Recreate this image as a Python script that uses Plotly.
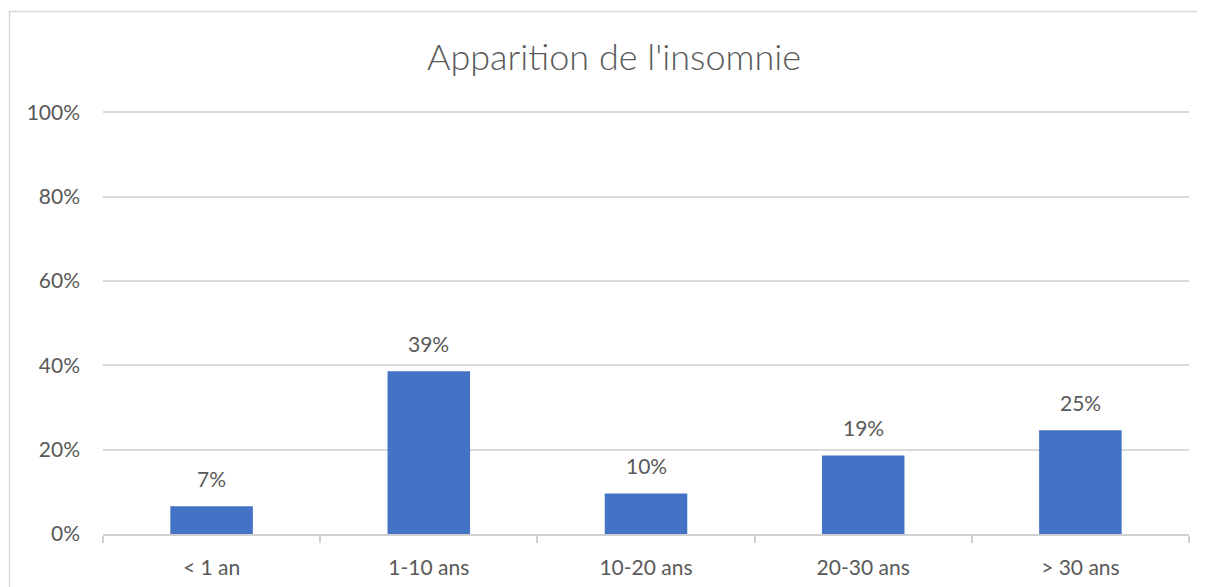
import plotly.graph_objects as go

categories = ["< 1 an", "1-10 ans", "10-20 ans", "20-30 ans", "> 30 ans"]
values = [0.066, 0.386, 0.096, 0.186, 0.246]
y_ticks = [0, 0.2, 0.4, 0.6, 0.8, 1.0]
y_tick_labels = ["0%", "20%", "40%", "60%", "80%", "100%"]
title_text = "Apparition de l'insomnie"

FONT = "Lato"
TXT = "#595959"

# page has an 8px body margin, so the figure is sized/offset to compensate
W, H = 1197, 579

fig = go.Figure()
fig.add_trace(go.Bar(x=categories, y=values, marker=dict(color="#4472C4", line=dict(width=0)),
                     hoverinfo="skip"))

for c, v in zip(categories, values):
    fig.add_annotation(x=c, y=v, text=f"{round(v*100):.0f}%", showarrow=False,
                       yanchor="middle", yshift=28, font=dict(family=FONT, size=21, color=TXT))

fig.add_shape(type="rect", xref="paper", yref="paper", x0=-0.0861, x1=1.03, y0=-0.2, y1=1.235,
              line=dict(color="#d9d9d9", width=1.5), layer="below")

fig.update_layout(
    width=W, height=H,
    margin=dict(l=95, r=16, t=103, b=53, autoexpand=False),
    paper_bgcolor="white", plot_bgcolor="white",
    bargap=0.62,
    showlegend=False,
    title=dict(text=title_text, x=(614 - 8) / W, xref="container", xanchor="center",
               y=1 - 49 / H, yref="container", yanchor="middle",
               font=dict(family=FONT, size=36, color=TXT, weight=300)),
    font=dict(family=FONT, size=21, color=TXT),
)
fig.update_xaxes(showline=True, linecolor="#d0d0d0", linewidth=1.5, automargin=False,
                 ticks="outside", tickson="boundaries", ticklen=7, tickcolor="#d0d0d0",
                 tickwidth=1.5, showgrid=False, ticklabelstandoff=14,
                 tickfont=dict(family=FONT, size=21, color=TXT))
fig.update_yaxes(range=[0, 1.003], tickvals=y_ticks, ticktext=y_tick_labels, automargin=False,
                 showgrid=True, gridcolor="#d9d9d9", gridwidth=1.5, zeroline=False,
                 showline=False, ticks="", ticklabelstandoff=22,
                 tickfont=dict(family=FONT, size=21, color=TXT))

fig.write_html("out.html")
